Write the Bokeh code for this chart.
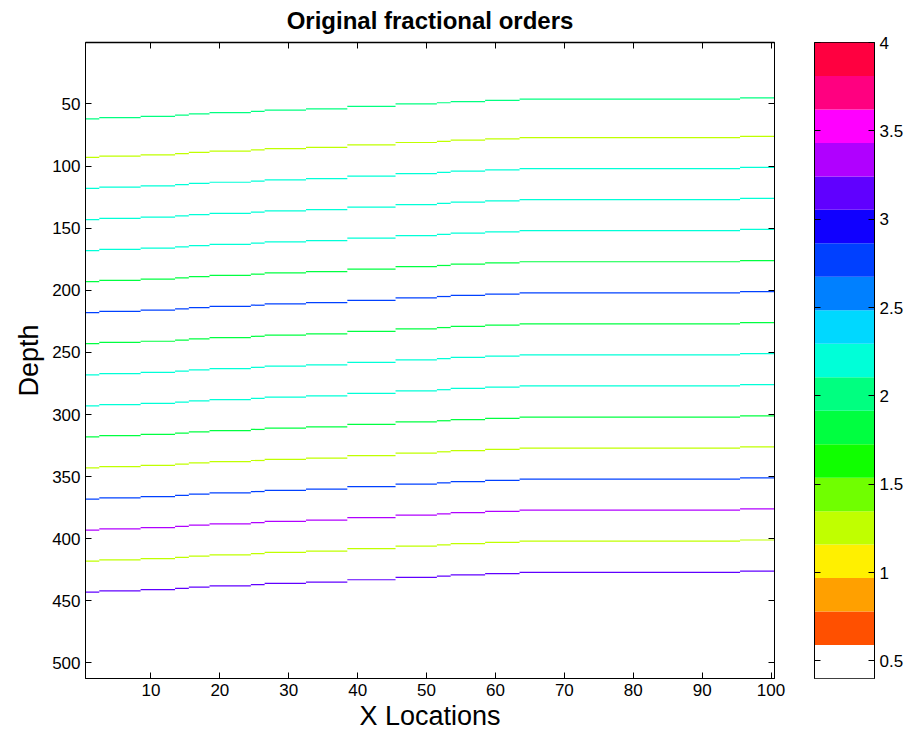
import numpy as np
from bokeh.plotting import figure
from bokeh.models import Range1d, LinearAxis, FixedTicker, LinearColorMapper, ColumnDataSource
from bokeh.layouts import row
from bokeh.transform import transform
from bokeh.embed import file_html
from bokeh.resources import INLINE

# Depth (row) of each layer at the first x location
layer_depth = [62, 93, 118, 143, 168, 193, 218, 243, 268, 293, 318, 343, 368, 393, 418, 443]
# Fractional order carried by each layer
layer_order = [2.0, 1.25, 2.2, 2.2, 2.2, 1.8, 2.75, 1.8, 2.2, 2.2, 1.8, 1.25, 2.75, 3.3, 1.25, 3.15]
# Upward shift of the layers (rows) over runs of x locations
shift_start = [1, 3, 9, 14, 16, 19, 25, 27, 33, 39, 46, 52, 54, 59, 64, 96]
shift_end = [2, 8, 13, 15, 18, 24, 26, 32, 38, 45, 51, 53, 58, 63, 95, 100]
shift_rows = [0, 1, 2, 3, 4, 5, 6, 7, 8, 10, 12, 13, 14, 15, 16, 17]

n_x = 100
n_depth = 512

x_ticks = [10, 20, 30, 40, 50, 60, 70, 80, 90, 100]
depth_ticks = [50, 100, 150, 200, 250, 300, 350, 400, 450, 500]
cbar_ticks = [0.5, 1, 1.5, 2, 2.5, 3, 3.5, 4]

palette = ["#FFFFFF", "#FF5000", "#FFA000", "#FFF000", "#C0FF00", "#70FF00",
           "#10FF00", "#00FF40", "#00FF80", "#00FFD8", "#00D8FF", "#0080FF",
           "#0040FF", "#1000FF", "#6000FF", "#B000FF", "#FF00FF", "#FF0080",
           "#FF0040"]
c_low, c_high = 0.4, 4.0

FONT = "Liberation Sans"

mapper = LinearColorMapper(palette=palette, low=c_low, high=c_high)

# one cell-row strip per layer and per run of x locations
left, right, top, bottom, order = [], [], [], [], []
for d, v in zip(layer_depth, layer_order):
    for s, e, sh in zip(shift_start, shift_end, shift_rows):
        row_d = d - sh
        left.append(s - 0.5)
        right.append(e + 0.5)
        top.append(row_d - 0.5)
        bottom.append(row_d + 0.5)
        order.append(v)
src = ColumnDataSource(dict(left=left, right=right, top=top, bottom=bottom, order=order))

p = figure(width=800, height=738, output_backend="svg", toolbar_location=None,
           x_range=Range1d(0.5, n_x + 0.5), y_range=Range1d(n_depth + 0.5, 0.5),
           min_border_left=85, min_border_right=26, min_border_top=42,
           min_border_bottom=60, x_axis_type=None, y_axis_type=None,
           title="Original fractional orders")
p.grid.visible = False
p.outline_line_color = "black"
p.background_fill_color = "white"
p.title.align = "center"
p.title.text_font = FONT
p.title.text_font_size = "24px"
p.title.text_font_style = "bold"
p.title.text_color = "black"
p.title.vertical_align = "top"
p.title.standoff = 13

p.quad(left="left", right="right", top="top", bottom="bottom", source=src,
       fill_color=transform("order", mapper), line_color=None)


def style_axis(ax, ticks, labels=True):
    ax.ticker = FixedTicker(ticks=ticks)
    ax.major_tick_in = 6
    ax.major_tick_out = 0
    ax.minor_tick_in = 0
    ax.minor_tick_out = 0
    ax.axis_line_color = "black"
    ax.major_tick_line_color = "black"
    ax.major_label_text_font = FONT
    if labels:
        ax.major_label_text_font_size = "17px"
        ax.major_label_text_color = "black"
        ax.major_label_standoff = 5
    else:
        # tick marks only on the mirrored sides
        ax.major_label_text_font_size = "1px"
        ax.major_label_text_color = None
        ax.major_label_standoff = 0
    ax.axis_label_text_font = FONT
    ax.axis_label_text_font_size = "27px"
    ax.axis_label_text_font_style = "normal"
    ax.axis_label_text_color = "black"


xb = LinearAxis(axis_label="X Locations")
style_axis(xb, x_ticks)
xb.axis_label_standoff = 2
p.add_layout(xb, "below")
xa = LinearAxis()
style_axis(xa, x_ticks, labels=False)
xa.axis_line_width = 1.5
p.add_layout(xa, "above")
yl = LinearAxis(axis_label="Depth")
style_axis(yl, depth_ticks)
p.add_layout(yl, "left")
yr = LinearAxis()
style_axis(yr, depth_ticks, labels=False)
p.add_layout(yr, "right")

# colour scale drawn as a strip of level boxes
edges = np.linspace(c_low, c_high, len(palette) + 1)
cb_src = ColumnDataSource(dict(bottom=edges[:-1], top=edges[1:], color=palette))
cb = figure(width=111, height=738, output_backend="svg", toolbar_location=None,
            x_range=Range1d(0, 1), y_range=Range1d(c_low, c_high),
            min_border_left=14, min_border_right=37, min_border_top=42,
            min_border_bottom=60, x_axis_type=None, y_axis_type=None)
cb.grid.visible = False
cb.outline_line_color = "black"
cb.quad(left=0, right=1, bottom="bottom", top="top", fill_color="color",
        line_color=None, source=cb_src)
cr = LinearAxis()
style_axis(cr, cbar_ticks)
cr.major_label_overrides = {1: "1", 2: "2", 3: "3", 4: "4"}
cb.add_layout(cr, "right")
cl = LinearAxis()
style_axis(cl, cbar_ticks, labels=False)
cb.add_layout(cl, "left")

layout = row(p, cb)
open("out.html", "w").write(file_html(layout, INLINE))
